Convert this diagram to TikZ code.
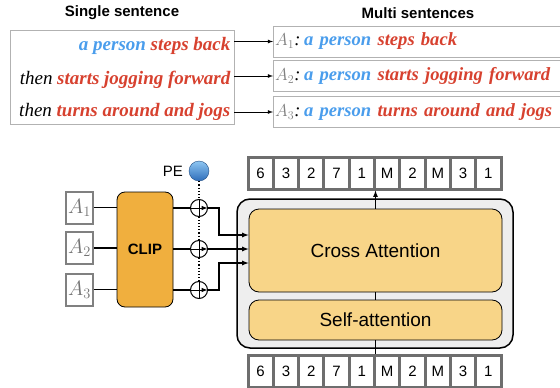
\documentclass[tikz,border=0pt]{standalone}
\usepackage{fontspec}
\setmainfont{Liberation Serif}
\setsansfont{Liberation Sans}
\definecolor{pblue}{HTML}{4A9DEC}
\definecolor{ared}{HTML}{D7412F}
\definecolor{clipor}{HTML}{F0AF3E}
\definecolor{attn}{HTML}{F8D588}
\definecolor{tokgray}{HTML}{6E6E6E}
\definecolor{petop}{HTML}{8EC6F2}
\definecolor{pebot}{HTML}{2E6DBA}
\newcommand{\who}[1]{\textcolor{pblue}{\bfseries #1}}
\newcommand{\act}[1]{\textcolor{ared}{\bfseries #1}}

\begin{document}
\begin{tikzpicture}[x=1pt,y=-1pt,->,>=latex,very thick,
  every node/.style={font=\sffamily},
  sent/.style={font=\fontsize{19}{22}\selectfont\itshape,inner sep=0pt},
  mbox/.style={sent,font=\fontsize{18.6}{22}\selectfont\itshape,draw=gray!60,thin,anchor=west,minimum height=31pt,text width=296pt,align=left,inner xsep=2pt},
  abox/.style={draw=gray,line width=2pt,minimum width=27pt,minimum height=32pt,inner sep=0pt,text=gray!90!black,font=\fontsize{20}{22}\selectfont},
  tok/.style={draw=tokgray,fill=white,line width=3pt,minimum width=25.3pt,minimum height=32pt,inner sep=0pt,font=\sffamily\fontsize{15}{16}\selectfont},
  oplus/.style={circle,draw,fill=white,line width=1pt,minimum size=17pt,inner sep=0pt,
    path picture={\draw[line width=1pt] (path picture bounding box.north) -- (path picture bounding box.south)
      (path picture bounding box.west) -- (path picture bounding box.east);}},
  block/.style={draw,thick,fill=attn,rounded corners=10pt,minimum width=253pt,font=\sffamily\fontsize{19}{22}\selectfont}]
\path[use as bounding box,clip] (0,0) rectangle (560,388);

% sentences
\node[font=\sffamily\bfseries\fontsize{15}{18}\selectfont] (single) at (122,13) {Single sentence};
\node[font=\sffamily\bfseries\fontsize{15}{18}\selectfont] (multi) at (418,13) {Multi sentences};
\node[draw=gray!60,thin,minimum width=224pt,minimum height=94pt] (sbox) at (122,77) {};
\node[sent,anchor=base east] (s1) at (231,50) {\who{a person} \act{steps back}};
\node[sent,anchor=base east] (s2) at (231,84) {then \act{starts jogging forward}};
\node[sent,anchor=base east] (s3) at (231,116) {then \act{turns around and jogs}};
\node[mbox] (m1) at (273,41.5) {\textcolor{gray}{$A_1$}:\hspace{0.2em}\who{a person} \act{steps back}};
\node[mbox] (m2) at (273,76) {\textcolor{gray}{$A_2$}:\hspace{0.2em}\who{a person} \act{starts jogging forward}};
\node[mbox] (m3) at (273,112) {\textcolor{gray}{$A_3$}:\hspace{0.2em}\who{a person} \act{turns around and jogs}};
\path[thick] (sbox.east |- m1) edge (m1)
      (sbox.east |- m2) edge (m2)
      (sbox.east |- m3) edge (m3);

% encoder
\node[abox] (a1) at (79.5,207.5) {$A_1$};
\node[abox] (a2) at (79.5,248) {$A_2$};
\node[abox] (a3) at (79.5,289.5) {$A_3$};
\node[draw,thick,fill=clipor,rounded corners=8pt,minimum width=56pt,minimum height=115pt,
  font=\sffamily\bfseries\fontsize{15}{18}\selectfont] (clip) at (145,249.5) {CLIP};
\path[-] (a1) edge (a1 -| clip.west)
      (a2) edge (a2 -| clip.west)
      (a3) edge (a3 -| clip.west);

\node[circle,draw=pebot!70!black,thin,top color=petop,bottom color=pebot,
  minimum size=20pt,inner sep=0pt] (pe) at (199,171) {};
\node[anchor=east,font=\sffamily\fontsize{15}{18}\selectfont] (pelabel) at ([xshift=-2pt]pe.west) {PE};
\draw[-,dotted,line width=1.2pt] (pe) -- (199,290);
\node[oplus] (o1) at (199,208) {};
\node[oplus] (o2) at (199,249) {};
\node[oplus] (o3) at (199,290) {};
\path[-] (clip.east |- o1) edge (o1)
      (clip.east |- o2) edge (o2)
      (clip.east |- o3) edge (o3);

% transformer
\node[draw,line width=1.5pt,fill=gray!13,rounded corners=13pt,minimum width=276pt,minimum height=149pt] (enc) at (375,273.5) {};
\node[block,minimum height=83pt] (ca) at (375.5,250.5) {Cross Attention};
\node[block,minimum height=40pt] (sa) at (375.5,320) {Self-attention};
\coordinate (j1) at (219,235);
\coordinate (j3) at (219,263);
\draw (o1) -| (j1) -- (j1 -| ca.west);
\draw (o2) -- (o2 -| ca.west);
\draw (o3) -| (j3) -- (j3 -| ca.west);

\foreach \t [count=\i] in {6,3,2,7,1,M,2,M,3,1} {
  \node[tok] (t\i) at (248+25.3*\i-12.65,173) {\t};
  \node[tok] (b\i) at (248+25.3*\i-12.65,371) {\t};
}
\draw[-] (sa) -- (ca);
\draw (ca) -- (ca.north |- t5.south);
\draw[-] (sa.south |- b5.north) -- (sa);
\end{tikzpicture}
\end{document}
